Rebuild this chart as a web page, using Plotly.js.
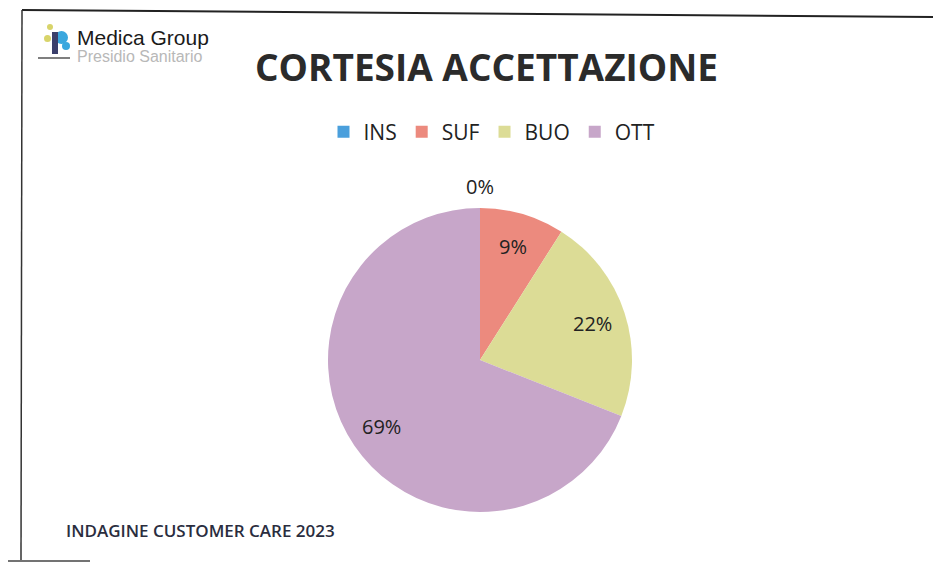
<!DOCTYPE html>
<html><head><meta charset="utf-8">
<script src="https://cdn.plot.ly/plotly-3.0.1.min.js"></script>
<style>html,body{margin:0;padding:0;background:#fff}#chart{width:933px;height:563px}</style>
</head><body><div id="chart"></div>
<script>
var categories = ["INS", "SUF", "BUO", "OTT"];
var values = [0, 9, 22, 69];
var sliceColors = ["#4a9fdc", "#ec8a7e", "#dcdc96", "#c7a6c9"];

var W = 933, H = 563;
var cx = 480, cy = 360, R = 152;

var trace = {
  type: "pie",
  labels: categories,
  values: values,
  sort: false,
  direction: "clockwise",
  rotation: 0,
  marker: {colors: sliceColors, line: {width: 0}},
  textinfo: "none",
  automargin: false,
  domain: {x: [(cx - R) / W, (cx + R) / W], y: [(H - cy - R) / H, (H - cy + R) / H]},
  hoverinfo: "label+percent"
};

// percentage labels placed along each slice's mid-angle (Excel-style "best fit")
var total = values.reduce(function (a, b) { return a + b; }, 0);
var pieLabels = [];
var cum = 0;
values.forEach(function (v) {
  var frac = v / total;
  var mid = (cum + frac / 2) * 2 * Math.PI;
  cum += frac;
  var rr = frac === 0 ? R * 1.14 : R * 0.78;
  var px = cx + rr * Math.sin(mid), py = cy - rr * Math.cos(mid);
  pieLabels.push({
    text: Math.round(frac * 100) + "%", xref: "paper", yref: "paper",
    x: px / W, y: 1 - py / H, xanchor: "center", yanchor: "middle", showarrow: false,
    font: {family: "Open Sans, sans-serif", size: 20, color: "#222"}
  });
});

var shapes = [
  {type: "line", xref: "paper", yref: "paper", x0: 22/W, y0: 1 - 10/H, x1: 1, y1: 1 - 17/H, line: {color: "#222", width: 2}},
  {type: "line", xref: "paper", yref: "paper", x0: 22/W, y0: 1 - 10/H, x1: 21/W, y1: 1 - 560/H, line: {color: "#333", width: 1.5}},
  {type: "line", xref: "paper", yref: "paper", x0: 8/W, y0: 1 - 561/H, x1: 90/W, y1: 1 - 561/H, line: {color: "#444", width: 1.5}},
  // logo icon
  {type: "circle", xref: "paper", yref: "paper", x0: 55/W, y0: 1 - 44/H, x1: 68/W, y1: 1 - 31/H, fillcolor: "#3aa7de", line: {width: 0}},
  {type: "circle", xref: "paper", yref: "paper", x0: 62/W, y0: 1 - 50/H, x1: 70/W, y1: 1 - 42/H, fillcolor: "#3aa7de", line: {width: 0}},
  {type: "circle", xref: "paper", yref: "paper", x0: 44/W, y0: 1 - 42/H, x1: 51/W, y1: 1 - 35/H, fillcolor: "#d8d46a", line: {width: 0}},
  {type: "circle", xref: "paper", yref: "paper", x0: 47/W, y0: 1 - 30/H, x1: 53/W, y1: 1 - 24/H, fillcolor: "#d8d46a", line: {width: 0}},
  {type: "rect", xref: "paper", yref: "paper", x0: 52/W, y0: 1 - 54/H, x1: 58/W, y1: 1 - 32/H, fillcolor: "#3b3f6b", line: {width: 0}},
  {type: "line", xref: "paper", yref: "paper", x0: 38/W, y0: 1 - 58/H, x1: 70/W, y1: 1 - 58/H, line: {color: "#555", width: 1.5}}
];

var annotations = [
  {text: "CORTESIA ACCETTAZIONE", xref: "paper", yref: "paper", x: 486/W, y: 1 - 66/H, xanchor: "center", yanchor: "middle", showarrow: false,
   font: {family: "Open Sans, sans-serif", size: 37, color: "#2b2b2b", weight: "bold"}},
  {text: "Medica Group", xref: "paper", yref: "paper", x: 75/W, y: 1 - 37/H, xanchor: "left", yanchor: "middle", showarrow: false,
   font: {family: "Liberation Sans, Arial, sans-serif", size: 21, color: "#1a1a1a"}},
  {text: "Presidio Sanitario", xref: "paper", yref: "paper", x: 75/W, y: 1 - 57/H, xanchor: "left", yanchor: "middle", showarrow: false,
   font: {family: "Liberation Sans, Arial, sans-serif", size: 16, color: "#b8b8b8"}},
  {text: "INDAGINE CUSTOMER CARE 2023", xref: "paper", yref: "paper", x: 64/W, y: 1 - 530/H, xanchor: "left", yanchor: "middle", showarrow: false,
   font: {family: "Open Sans, sans-serif", size: 17, color: "#2a2d3e", weight: 600}}
].concat(pieLabels);

var layout = {
  width: W, height: H,
  margin: {l: 0, r: 0, t: 0, b: 0},
  paper_bgcolor: "#ffffff",
  showlegend: true,
  legend: {orientation: "h", x: 492/W, xanchor: "center", y: 1 - 132/H, yanchor: "middle",
           font: {family: "Open Sans, sans-serif", size: 21, color: "#222"}, traceorder: "normal",
           itemwidth: 30, bgcolor: "rgba(0,0,0,0)"},
  shapes: shapes,
  annotations: annotations
};

Plotly.newPlot("chart", [trace], layout, {displayModeBar: false, staticPlot: true});
</script>
</body></html>
